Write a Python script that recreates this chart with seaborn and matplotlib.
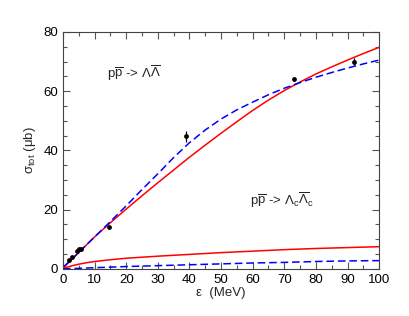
import numpy as np
import pandas as pd
import matplotlib
matplotlib.use('Agg')
import matplotlib.pyplot as plt
import seaborn as sns

# Data
eps_grid = [0, 2.5, 5, 7.5, 10, 15, 20, 25, 30, 35, 40, 45, 50, 55, 60, 65, 70, 75, 80, 85, 90, 95, 100]
lam_red = [0.3, 2.9, 5.5, 8.2, 10.8, 15.6, 20.2, 24.7, 29.1, 33.4, 37.7, 41.8, 45.8, 49.7, 53.5, 57.0, 60.2, 63.1, 65.8, 68.2, 70.5, 72.7, 74.8]
lam_blue = [0.5, 3.0, 5.6, 8.2, 10.8, 16.0, 21.3, 26.8, 32.1, 37.6, 42.6, 46.9, 50.6, 53.7, 56.3, 58.8, 61.0, 62.9, 64.7, 66.3, 67.8, 69.2, 70.5]

eps_low = [0, 1, 2, 3, 5, 7.5, 10, 15, 20, 30, 40, 50, 60, 70, 80, 90, 100]
lamc_red = [0.0, 0.5, 0.8, 1.1, 1.6, 2.1, 2.5, 3.1, 3.6, 4.3, 4.9, 5.5, 6.0, 6.5, 6.9, 7.2, 7.5]
lamc_blue = [0.0, 0.04, 0.08, 0.12, 0.2, 0.3, 0.4, 0.6, 0.8, 1.1, 1.4, 1.7, 2.0, 2.2, 2.5, 2.7, 2.8]

exp_eps = [2.0, 3.0, 4.3, 5.0, 5.8, 14.5, 39.0, 73.0, 92.0]
exp_sig = [3.0, 4.0, 6.0, 6.6, 6.8, 14.0, 44.7, 64.2, 70.0]
exp_err = [0.3, 0.3, 0.4, 0.4, 0.4, 0.5, 1.7, 0.6, 1.2]

sns.set_style('ticks')
plt.rcParams['font.family'] = ['Liberation Sans', 'DejaVu Sans']
plt.rcParams['mathtext.fontset'] = 'custom'
plt.rcParams['mathtext.rm'] = 'Liberation Sans'
plt.rcParams['mathtext.it'] = 'Liberation Sans:italic'

fig = plt.figure(figsize=(4.09, 3.16), dpi=100)
ax = fig.add_axes([0.154, 0.149, 0.773, 0.75])

dash = (0, (5, 2.5))
sns.lineplot(x=eps_grid, y=lam_red, color='#ff0000', lw=1.1, ax=ax)
sns.lineplot(x=eps_grid, y=lam_blue, color='#0000ff', lw=1.1, ax=ax, linestyle=dash)
sns.lineplot(x=eps_low, y=lamc_red, color='#ff0000', lw=1.1, ax=ax)
sns.lineplot(x=eps_low, y=lamc_blue, color='#0000ff', lw=1.1, ax=ax, linestyle=dash)

ax.errorbar(exp_eps, exp_sig, yerr=exp_err, fmt='none', ecolor='black', elinewidth=0.9, capsize=0)
sns.scatterplot(x=exp_eps, y=exp_sig, color='black', s=12, edgecolor='black', linewidth=0, zorder=5, ax=ax)

ax.set_xlim(0, 100)
ax.set_ylim(0, 80)
ax.set_xticks(range(0, 101, 10))
ax.set_yticks(range(0, 81, 20))
ax.set_xticks(range(0, 101, 5), minor=True)
ax.set_yticks(range(0, 81, 5), minor=True)
ax.tick_params(which='both', direction='in', top=True, right=True, colors='#555555', labelcolor='black', labelsize=9.5)
ax.tick_params(which='major', length=5, width=0.8)
ax.tick_params(which='minor', length=3, width=0.8)
for sp in ax.spines.values():
    sp.set_color('#444444')
    sp.set_linewidth(0.8)

ax.set_xlabel('ε  (MeV)', fontsize=9.5, labelpad=1)
ax.set_ylabel(r'σ$_{\rm tot}$ (μb)', fontsize=9.5, labelpad=4)

ax.text(14, 66, r'$\mathrm{p\overline{p}}$ -> $\Lambda\overline{\Lambda}$', fontsize=9.5, va='center')
ax.text(59, 23, r'$\mathrm{p\overline{p}}$ -> $\Lambda_{\rm c}\overline{\Lambda}_{\rm c}$', fontsize=9.5, va='center')

fig.savefig('out.png', dpi=100)
